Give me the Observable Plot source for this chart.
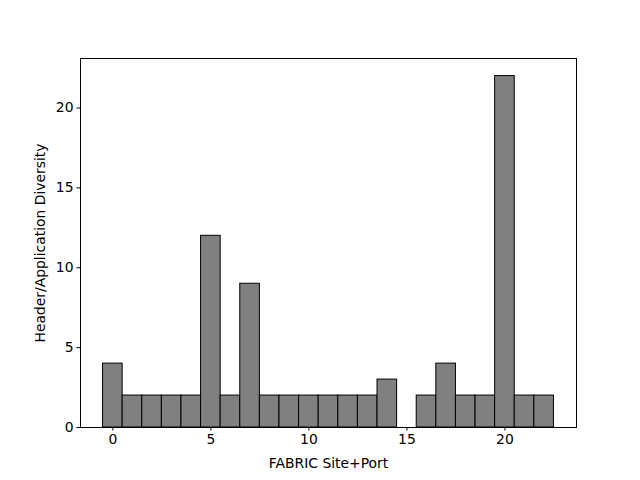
<!DOCTYPE html>
<html>
<head>
<meta charset="utf-8">
<script src="https://cdn.jsdelivr.net/npm/d3@7"></script>
<script src="https://cdn.jsdelivr.net/npm/@observablehq/plot@0.6"></script>
<style>
  html, body { margin: 0; padding: 0; background: #fff; }
</style>
</head>
<body>
<div id="chart"></div>
<script>
const sites = [0, 1, 2, 3, 4, 5, 6, 7, 8, 9, 10, 11, 12, 13, 14, 16, 17, 18, 19, 20, 21, 22];
const diversity = [4, 2, 2, 2, 2, 12, 2, 9, 2, 2, 2, 2, 2, 2, 3, 2, 4, 2, 2, 22, 2, 2];
const xTicks = [0, 5, 10, 15, 20];
const yTicks = [0, 5, 10, 15, 20];
const xLabel = "FABRIC Site+Port";
const yLabel = "Header/Application Diversity";

const data = sites.map((s, i) => ({site: s, value: diversity[i]}));

const chart = Plot.plot({
  width: 640,
  height: 480,
  marginLeft: 80,
  marginRight: 64,
  marginTop: 58,
  marginBottom: 53,
  style: {fontFamily: "DejaVu Sans", fontSize: "13.9px", color: "black", background: "white"},
  x: {domain: [-1.65, 23.65]},
  y: {domain: [0, 23.1]},
  marks: [
    Plot.rect(data, {
      x1: d => d.site - 0.5,
      x2: d => d.site + 0.5,
      y1: 0,
      y2: "value",
      fill: "#808080",
      stroke: "black",
      strokeWidth: 1
    }),
    Plot.frame({stroke: "black", strokeWidth: 1}),
    Plot.axisX({ticks: xTicks, tickSize: 3.5, tickPadding: 3.5, label: null, stroke: "black", strokeOpacity: 1}),
    Plot.axisY({ticks: yTicks, tickSize: 3.5, tickPadding: 3.5, label: null, stroke: "black", strokeOpacity: 1}),
    Plot.text([xLabel], {frameAnchor: "bottom", dy: 36, lineAnchor: "middle", textAnchor: "middle", text: d => d, fill: "black"}),
    Plot.text([yLabel], {frameAnchor: "left", dx: -40, rotate: -90, lineAnchor: "middle", textAnchor: "middle", text: d => d, fill: "black"})
  ]
});
document.getElementById("chart").appendChild(chart);
</script>
</body>
</html>
